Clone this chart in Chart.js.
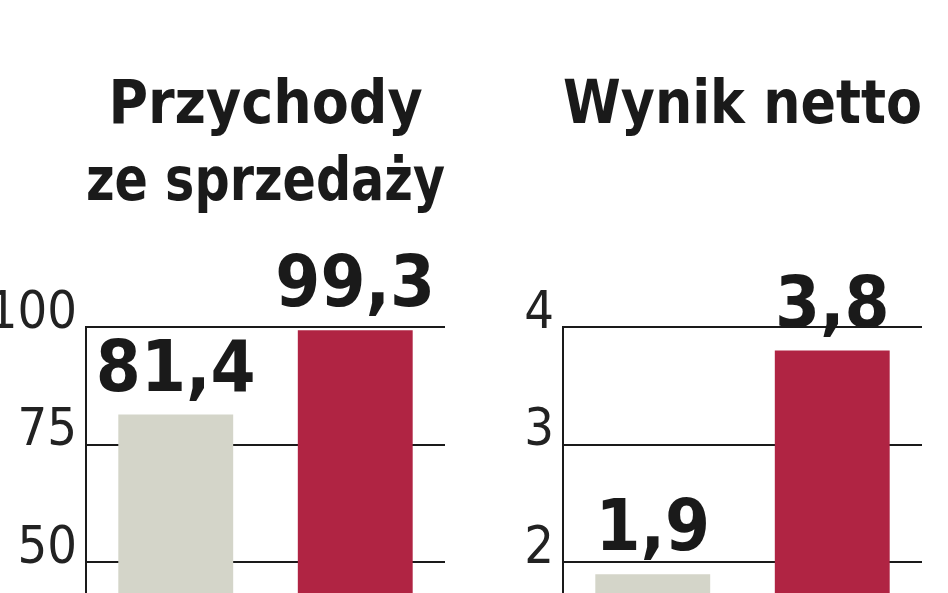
<!DOCTYPE html>
<html>
<head>
<meta charset="utf-8">
<script src="https://cdn.jsdelivr.net/npm/chart.js@4/dist/chart.umd.min.js"></script>
<style>
  html, body { margin: 0; padding: 0; background: #fff; overflow: hidden; }
  .panel { position: absolute; top: 0; width: 474px; height: 838px; }
  #left { left: 0; }
  #right { left: 474px; }
</style>
</head>
<body>
<div class="panel" id="left"><canvas id="revenueChart" width="474" height="838"></canvas></div>
<div class="panel" id="right"><canvas id="profitChart" width="474" height="838"></canvas></div>
<script>
const periods = ['okres poprzedni', 'okres bieżący'];
const revenue = [81.4, 99.3];
const netProfit = [1.9, 3.8];
const barColors = ['#d4d5c9', '#b02443'];

const FONT = "'Liberation Sans Narrow', 'DejaVu Sans Condensed', 'Roboto', sans-serif";

/* value labels above the bars, polish decimal comma */
const valueLabels = {
  id: 'valueLabels',
  afterDatasetsDraw(chart) {
    const ctx = chart.ctx;
    const meta = chart.getDatasetMeta(0);
    const values = chart.data.datasets[0].data;
    ctx.save();
    ctx.font = 'bold 72px ' + FONT;
    ctx.fillStyle = '#1a1a1a';
    ctx.textAlign = 'center';
    ctx.textBaseline = 'alphabetic';
    meta.data.forEach((bar, i) => {
      ctx.fillText(values[i].toFixed(1).replace('.', ','), bar.x, bar.y - 24);
    });
    ctx.restore();
  }
};

function makeChart(el, title, values, max, step, axisWidth, padRight, titleBottom) {
  return new Chart(el, {
    type: 'bar',
    data: {
      labels: periods,
      datasets: [{
        data: values,
        backgroundColor: barColors,
        barPercentage: 0.64,
        categoryPercentage: 1
      }]
    },
    options: {
      responsive: false,
      animation: false,
      layout: { padding: { left: 0, right: padRight, top: 0, bottom: 3 } },
      plugins: {
        legend: { display: false },
        tooltip: { enabled: false },
        title: {
          display: true,
          text: title,
          fullSize: false,
          color: '#1a1a1a',
          font: { family: FONT, size: 60, weight: 'bold', lineHeight: '77px' },
          padding: { top: 69, bottom: titleBottom }
        }
      },
      scales: {
        x: { display: false },
        y: {
          min: 0,
          max: max,
          afterFit(scale) { scale.width = axisWidth; },
          border: { display: true, color: '#1a1a1a', width: 2 },
          grid: { color: '#1a1a1a', lineWidth: 2, drawTicks: false },
          ticks: {
            stepSize: step,
            padding: 9,
            labelOffset: -13,
            color: '#222',
            font: { family: FONT, size: 52 }
          }
        }
      }
    },
    plugins: [valueLabels]
  });
}

makeChart(document.getElementById('revenueChart'), ['Przychody', 'ze sprzedaży'], revenue, 100, 25, 86, 29, 104);
makeChart(document.getElementById('profitChart'), 'Wynik netto', netProfit, 4, 1, 89, 26, 181);
</script>
</body>
</html>
